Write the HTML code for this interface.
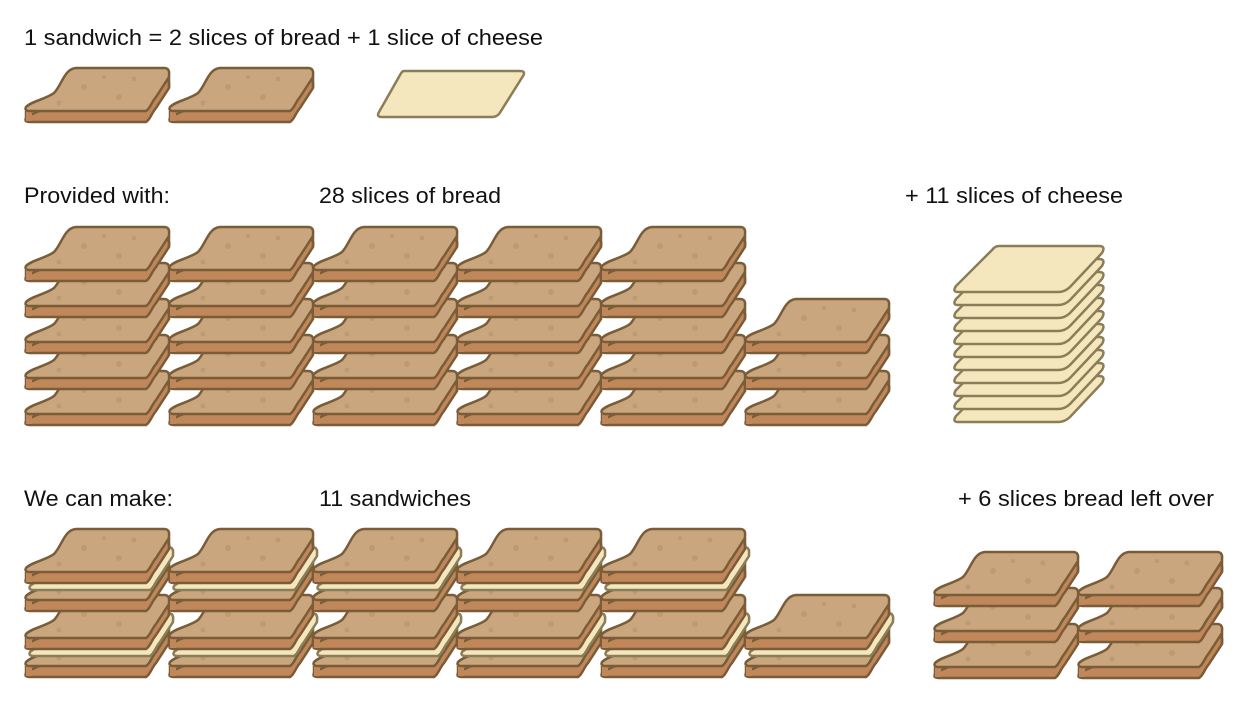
<!DOCTYPE html>
<html><head><meta charset="utf-8"><style>
body{margin:0;background:#fff;width:1248px;height:710px;overflow:hidden}
svg{display:block}
text{font-family:"Liberation Sans",sans-serif;font-size:22px;fill:#111}
</style></head><body>
<svg width="1248" height="710" viewBox="0 0 1248 710" xmlns="http://www.w3.org/2000/svg">
<defs>
<path id="face" d="M2,40 C8,34 22,32 30,26 C38,18 40,2 52,1 L140,1 Q146,1 145,8 L145,10 L132,30 C127,36 126,42 122,44 L6,44 Q0,44 2,40 Z"/>
<g id="bread">
 <use href="#face" transform="translate(0,11)" fill="#bf875a" stroke="#7a5c38" stroke-width="2.5"/>
 <path d="M2,44 L2,55 M145,10 L145,21" stroke="#7a5c38" stroke-width="2.5" fill="none"/>
 <rect x="2" y="40" width="6" height="14" fill="#bf875a"/>
 <use href="#face" fill="#c9a67d" stroke="#7a5c38" stroke-width="2.5"/>
 <g fill="#b8926a" opacity=".6"><circle cx="60" cy="20" r="3"/><circle cx="95" cy="30" r="3"/><circle cx="110" cy="12" r="2.5"/><circle cx="35" cy="36" r="2.5"/><circle cx="80" cy="10" r="2"/></g>
</g>
<path id="cheeseS" d="M28,1 L144,1 Q150,1 147,6 L125,41 Q122,47 116,47 L6,47 Q0,47 3,42 L24,5 Q26,1 28,1 Z" fill="#f4e6bd" stroke="#8a7d58" stroke-width="2.5"/>
<path id="cheeseBig" d="M47,1 L147,1 Q154,1 150,8 L118,42 Q113,47 106,47 L6,47 Q0,47 4,41 L40,5 Q43,1 47,1 Z" fill="#f4e6bd" stroke="#8a7d58" stroke-width="2.5"/>
<g id="sandwich">
 <use href="#bread" transform="translate(0,28)"/>
 <use href="#face" transform="translate(4,18)" fill="#f4e6bd" stroke="#8a7d58" stroke-width="2.5"/>
 <use href="#bread"/>
</g>
<g id="col5">
<use href="#bread" x="0" y="370"/>
<use href="#bread" x="0" y="334"/>
<use href="#bread" x="0" y="298"/>
<use href="#bread" x="0" y="262"/>
<use href="#bread" x="0" y="226"/>
</g>
<g id="scol">
<use href="#sandwich" x="0" y="594"/>
<use href="#sandwich" x="0" y="528"/>
</g>
</defs>

<text x="24" y="45" textLength="519" lengthAdjust="spacingAndGlyphs">1 sandwich = 2 slices of bread + 1 slice of cheese</text>
<use href="#bread" x="24" y="67"/>
<use href="#bread" x="168" y="67"/>
<use href="#cheeseS" x="376" y="70"/>

<text x="24" y="203" textLength="146" lengthAdjust="spacingAndGlyphs">Provided with:</text>
<text x="319" y="203" textLength="182" lengthAdjust="spacingAndGlyphs">28 slices of bread</text>
<text x="905" y="203" textLength="218" lengthAdjust="spacingAndGlyphs">+ 11 slices of cheese</text>

<use href="#col5" x="24"/>
<use href="#col5" x="168"/>
<use href="#col5" x="312"/>
<use href="#col5" x="456"/>
<use href="#col5" x="600"/>
<use href="#bread" x="744" y="370"/>
<use href="#bread" x="744" y="334"/>
<use href="#bread" x="744" y="298"/>

<use href="#cheeseBig" x="952" y="375"/>
<use href="#cheeseBig" x="952" y="362"/>
<use href="#cheeseBig" x="952" y="349"/>
<use href="#cheeseBig" x="952" y="336"/>
<use href="#cheeseBig" x="952" y="323"/>
<use href="#cheeseBig" x="952" y="310"/>
<use href="#cheeseBig" x="952" y="297"/>
<use href="#cheeseBig" x="952" y="284"/>
<use href="#cheeseBig" x="952" y="271"/>
<use href="#cheeseBig" x="952" y="258"/>
<use href="#cheeseBig" x="952" y="245"/>

<text x="24" y="506" textLength="149" lengthAdjust="spacingAndGlyphs">We can make:</text>
<text x="319" y="506" textLength="152" lengthAdjust="spacingAndGlyphs">11 sandwiches</text>
<text x="958" y="506" textLength="256" lengthAdjust="spacingAndGlyphs">+ 6 slices bread left over</text>

<use href="#scol" x="24"/>
<use href="#scol" x="168"/>
<use href="#scol" x="312"/>
<use href="#scol" x="456"/>
<use href="#scol" x="600"/>
<use href="#sandwich" x="744" y="594"/>

<use href="#bread" x="933" y="623"/>
<use href="#bread" x="933" y="587"/>
<use href="#bread" x="933" y="551"/>
<use href="#bread" x="1077" y="623"/>
<use href="#bread" x="1077" y="587"/>
<use href="#bread" x="1077" y="551"/>
</svg>
</body></html>
